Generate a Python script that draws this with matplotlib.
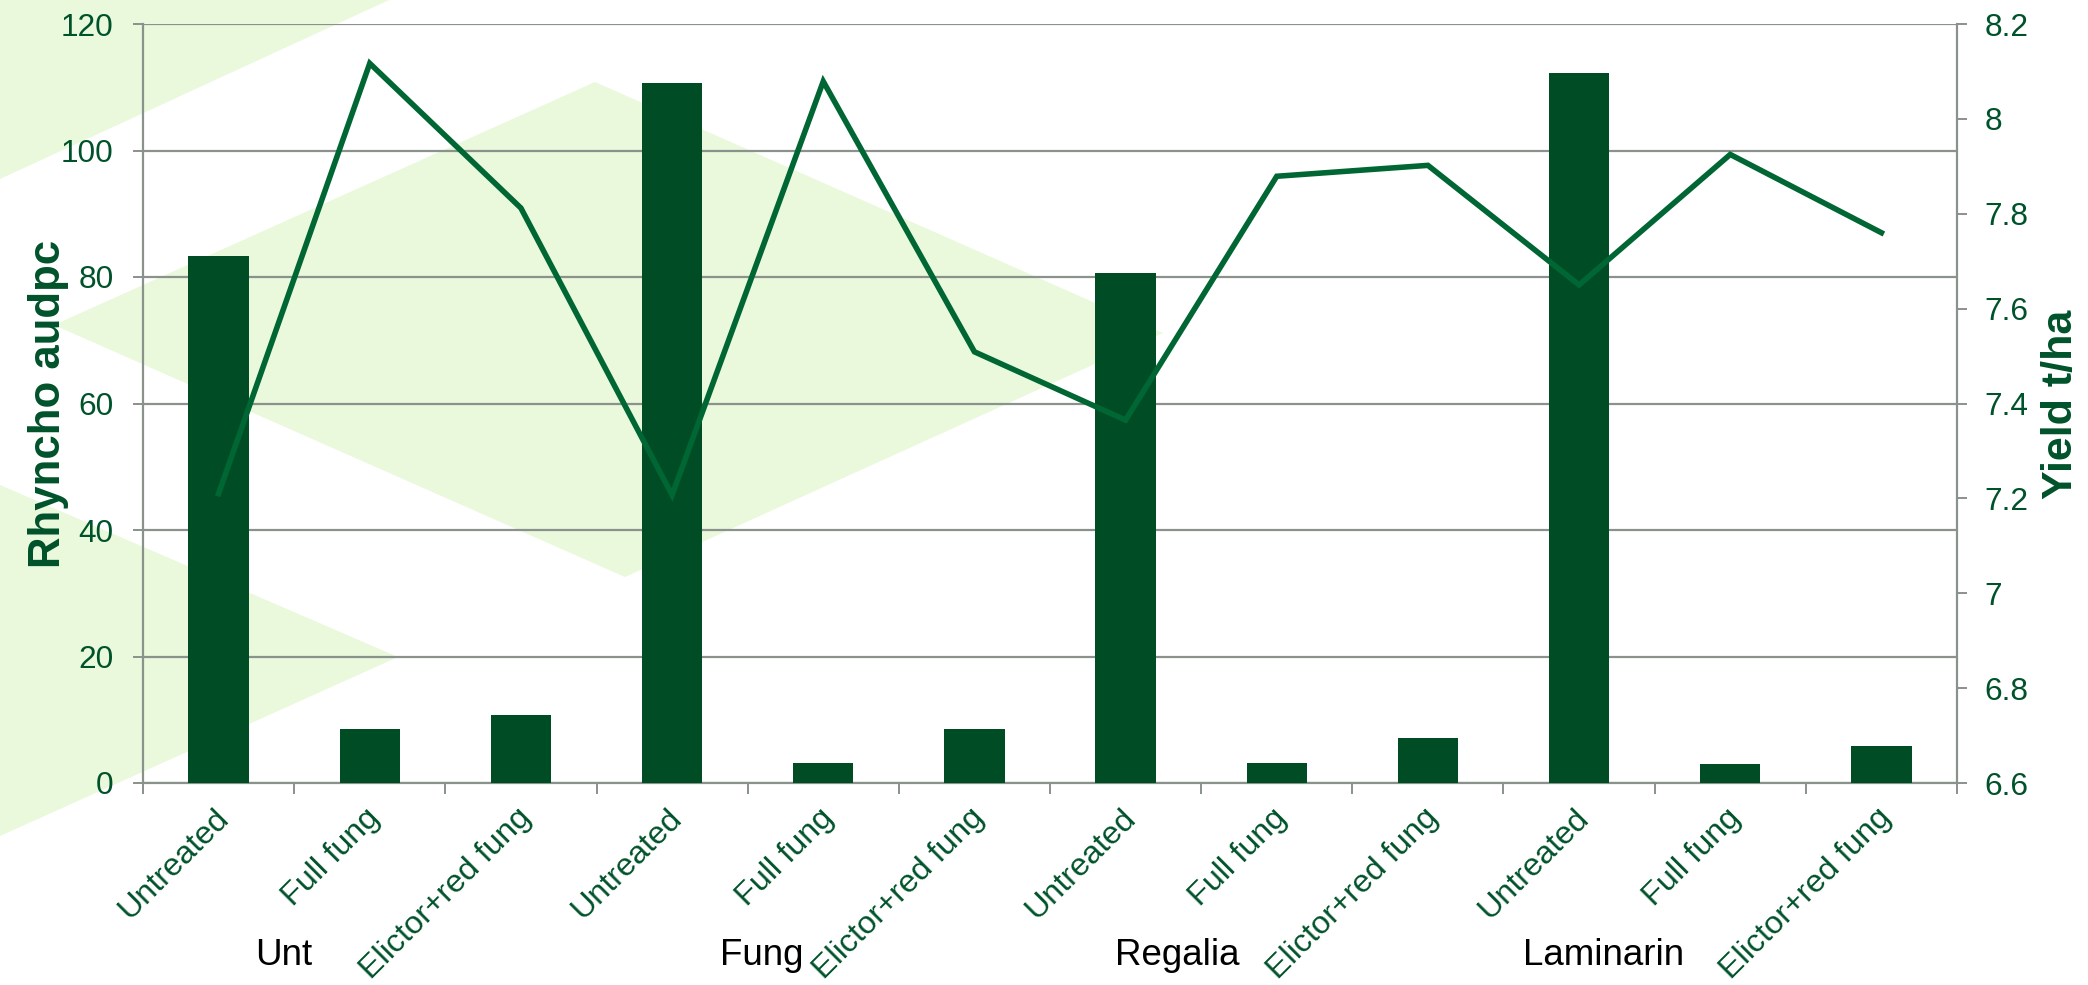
import matplotlib
matplotlib.use("Agg")
import matplotlib.pyplot as plt
from matplotlib.patches import Polygon
from matplotlib.transforms import ScaledTranslation, blended_transform_factory
from matplotlib.ticker import FixedLocator, FuncFormatter

# ---- data ----
categories = ['Untreated', 'Full fung', 'Elictor+red fung'] * 4
groups = ['Unt', 'Fung', 'Regalia', 'Laminarin']
audpc = [83.3, 8.6, 10.8, 110.7, 3.1, 8.6, 80.6, 3.1, 7.1, 112.2, 3.0, 5.8]
yield_tha = [7.21, 8.117, 7.812, 7.207, 8.079, 7.509, 7.365, 7.879, 7.902, 7.65, 7.925, 7.76]
left_ticks = [0, 20, 40, 60, 80, 100, 120]
right_ticks = [6.6, 6.8, 7.0, 7.2, 7.4, 7.6, 7.8, 8.0, 8.2]

# ---- style ----
W, H = 2088, 985
BAR = '#004D25'
LINE = '#006633'
TXT = '#00522A'
GRAY = '#8A928C'
BG = '#EAF8DC'
ARIAL = ['Liberation Sans', 'Arimo', 'DejaVu Sans']

fig = plt.figure(figsize=(W / 100, H / 100), dpi=100)
fig.patch.set_facecolor('white')

def px(pts):
    return [(x / W, 1 - y / H) for x, y in pts]

shapes = [
    [(0, 0), (389, 0), (0, 179)],
    [(54, 325), (595, 82), (1163, 333), (625, 577)],
    [(0, 485), (398, 657), (0, 836)],
]
for s in shapes:
    fig.add_artist(Polygon(px(s), closed=True, facecolor=BG, edgecolor='none',
                           transform=fig.transFigure, zorder=-5))

L, R, T, B = 143, 1957, 24, 783
ax = fig.add_axes([L / W, 1 - B / H, (R - L) / W, (B - T) / H])
ax.set_facecolor('none')
ax.set_zorder(1)

x = list(range(len(categories)))
ax.bar(x, audpc, width=0.4, color=BAR, zorder=3)
ax.set_xlim(-0.5, len(categories) - 0.5)
ax.set_ylim(0, 120)
ax.set_axisbelow(True)
ax.yaxis.set_major_locator(FixedLocator(left_ticks))
ax.grid(axis='y', color=GRAY, linewidth=1.6)
ax.yaxis.set_major_formatter(FuncFormatter(lambda v, p: f'{v:g}'))

for sp in ['top', 'right']:
    ax.spines[sp].set_visible(False)
for sp in ['left', 'bottom']:
    ax.spines[sp].set_color(GRAY)
    ax.spines[sp].set_linewidth(1.6)

ax.tick_params(axis='y', direction='out', length=7, width=1.4, color=GRAY,
               pad=14, labelcolor=TXT, labelsize=22.8)
for lab in ax.get_yticklabels():
    lab.set_family(ARIAL)

# x ticks: boundaries as major ticks, labels at category centres (minor)
ax.set_xticks([i - 0.5 for i in range(len(categories) + 1)])
ax.set_xticklabels([])
ax.tick_params(axis='x', which='major', direction='out', length=8, width=1.4, color=GRAY)
ax.set_xticks(x, minor=True)
ax.set_xticklabels(categories, minor=True, rotation=45, ha='right',
                   rotation_mode='anchor', fontsize=23.3, color=TXT, family=ARIAL)
ax.tick_params(axis='x', which='minor', length=0, pad=0)
off = ScaledTranslation(-0.05, -0.2, fig.dpi_scale_trans)
for lab in ax.get_xticklabels(minor=True):
    lab.set_transform(lab.get_transform() + off)

ax.text(-0.052, 0.5, 'Rhyncho audpc', transform=ax.transAxes, rotation=90,
        ha='center', va='center', fontsize=31.5, fontweight='bold', color=TXT,
        family=ARIAL)

# group labels
group_label_x = [0.43, 3.59, 6.34, 9.16]
btr = blended_transform_factory(ax.transData, ax.transAxes)
for gx, g in zip(group_label_x, groups):
    ax.text(gx, -0.227, g, transform=btr, ha='center', va='center',
            fontsize=26.5, color='black', family=ARIAL)

# secondary axis
ax2 = ax.twinx()
ax2.plot(x, yield_tha, color=LINE, linewidth=4, solid_joinstyle='miter', zorder=4)
ax2.set_ylim(6.6, 8.2)
ax2.yaxis.set_major_locator(FixedLocator(right_ticks))
ax2.yaxis.set_major_formatter(FuncFormatter(lambda v, p: f'{round(v, 1):g}'))
for sp in ['top', 'left', 'bottom']:
    ax2.spines[sp].set_visible(False)
ax2.spines['right'].set_color(GRAY)
ax2.spines['right'].set_linewidth(1.6)
ax2.tick_params(axis='y', direction='out', length=7, width=1.4, color=GRAY,
                pad=13, labelcolor=TXT, labelsize=22.8)
for lab in ax2.get_yticklabels():
    lab.set_family(ARIAL)
ax2.text(1.0573, 0.499, 'Yield t/ha', transform=ax2.transAxes, rotation=90,
         ha='center', va='center', fontsize=31, fontweight='bold', color=TXT,
         family=ARIAL)

fig.savefig('out.png', dpi=100, facecolor='white')
